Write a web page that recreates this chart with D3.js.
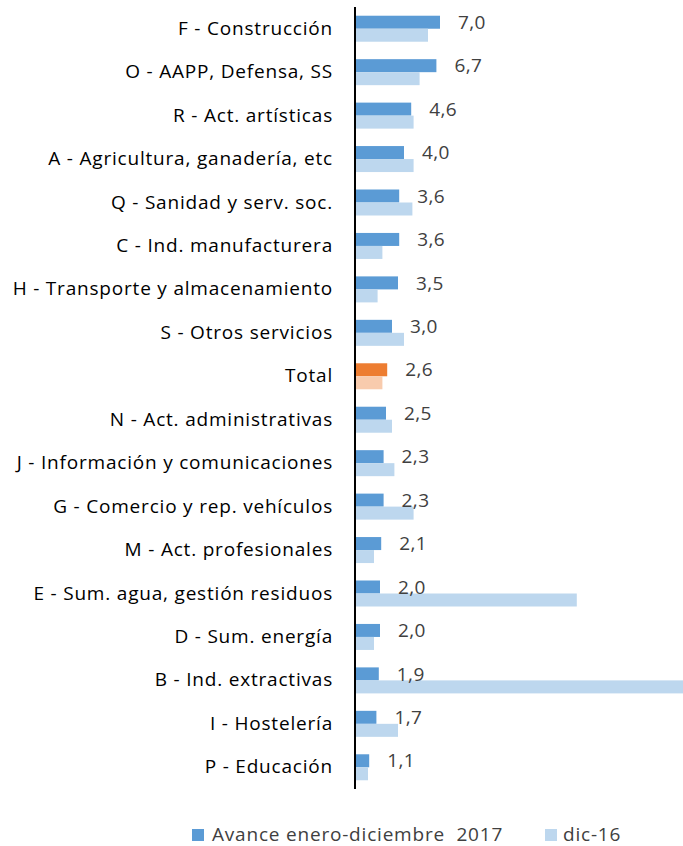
<!DOCTYPE html>
<html>
<head>
<meta charset="utf-8">
<script src="https://cdn.jsdelivr.net/npm/d3@7"></script>
<style>
  body { margin: 0; background: #fff; }
  svg { display: block; font-family: "Open Sans", Lato, sans-serif; }
</style>
</head>
<body>
<svg id="chart" width="683" height="846"></svg>
<script>
// categories, top to bottom
const sectores = [
  'F - Construcción', 'O - AAPP, Defensa, SS', 'R - Act. artísticas',
  'A - Agricultura, ganadería, etc', 'Q - Sanidad y serv. soc.', 'C - Ind. manufacturera',
  'H - Transporte y almacenamiento', 'S - Otros servicios', 'Total',
  'N - Act. administrativas', 'J - Información y comunicaciones', 'G - Comercio y rep. vehículos',
  'M - Act. profesionales', 'E - Sum. agua, gestión residuos', 'D - Sum. energía ',
  'B - Ind. extractivas', 'I - Hostelería', 'P - Educación'
];
// Avance enero-diciembre 2017
const avance2017 = [7.0, 6.7, 4.6, 4.0, 3.6, 3.6, 3.5, 3.0, 2.6, 2.5, 2.3, 2.3, 2.1, 2.0, 2.0, 1.9, 1.7, 1.1];
// dic-16
const dic16 = [6.0, 5.3, 4.8, 4.8, 4.7, 2.2, 1.8, 4.0, 2.2, 3.0, 3.2, 4.8, 1.5, 18.4, 1.5, 28.5, 3.5, 1.0];
const serieNames = ['Avance enero-diciembre  2017', 'dic-16'];

const svg = d3.select('#chart');
const width = +svg.attr('width'), height = +svg.attr('height');
const x0 = 356, plotTop = 7, plotBottom = 789;
const fontSize = 19, spacing = '0.8px';

const x = d3.scaleLinear().domain([0, 27.25]).range([x0, width]);
const y = d3.scaleBand().domain(sectores).range([plotTop, plotBottom]);
const barH = 13;

const colDark = '#5B9BD5', colLight = '#BDD7EE';
const colTotal = '#ED7D31', colTotalLight = '#F8CBAD';

svg.append('defs').append('clipPath').attr('id', 'plot')
  .append('rect').attr('x', x0).attr('y', 0).attr('width', width - x0).attr('height', height);

const rows = sectores.map((s, i) => ({ s, a: avance2017[i], d: dic16[i] }));

const g = svg.append('g').attr('clip-path', 'url(#plot)');
const row = g.selectAll('.row').data(rows).enter().append('g').attr('class', 'row');

row.append('rect')
  .attr('x', x(0))
  .attr('y', d => y(d.s) + y.bandwidth() / 2 - barH)
  .attr('width', d => x(d.a) - x(0))
  .attr('height', barH)
  .attr('fill', d => d.s == 'Total' ? colTotal : colDark);

row.append('rect')
  .attr('x', x(0))
  .attr('y', d => y(d.s) + y.bandwidth() / 2)
  .attr('width', d => x(d.d) - x(0))
  .attr('height', barH)
  .attr('fill', d => d.s == 'Total' ? colTotalLight : colLight);

// value labels (2017 series)
svg.append('g').selectAll('text').data(rows).enter().append('text')
  .attr('x', d => x(d.a) + 18)
  .attr('y', d => y(d.s) + y.bandwidth() / 2 - barH / 2)
  .attr('dy', '0.35em')
  .attr('font-size', fontSize)
  .attr('fill', '#404040')
  .style('letter-spacing', '0.4px')
  .text(d => d3.format('.1f')(d.a).replace('.', ','));

// category axis
const yAxis = svg.append('g').attr('transform', `translate(${x0 - 1},0)`)
  .call(d3.axisLeft(y).tickSize(0).tickPadding(22));
yAxis.select('.domain').attr('stroke', '#000').attr('stroke-width', 2)
  .attr('d', `M0,${plotTop}V${plotBottom}`);
yAxis.selectAll('text').attr('font-size', fontSize).attr('fill', '#000')
  .attr('font-family', '"Open Sans", Lato, sans-serif')
  .style('letter-spacing', spacing);

// legend
const legend = svg.append('g').attr('font-size', fontSize).attr('fill', '#404040');
const legItems = [
  { name: serieNames[0], color: colDark, x: 192, tx: 212 },
  { name: serieNames[1], color: colLight, x: 545, tx: 563 }
];
legItems.forEach(it => {
  legend.append('rect').attr('x', it.x).attr('y', 829).attr('width', 12).attr('height', 12).attr('fill', it.color);
  legend.append('text').attr('x', it.tx).attr('y', 841)
    .style('white-space', 'pre').style('letter-spacing', spacing).text(it.name);
});
</script>
</body>
</html>
